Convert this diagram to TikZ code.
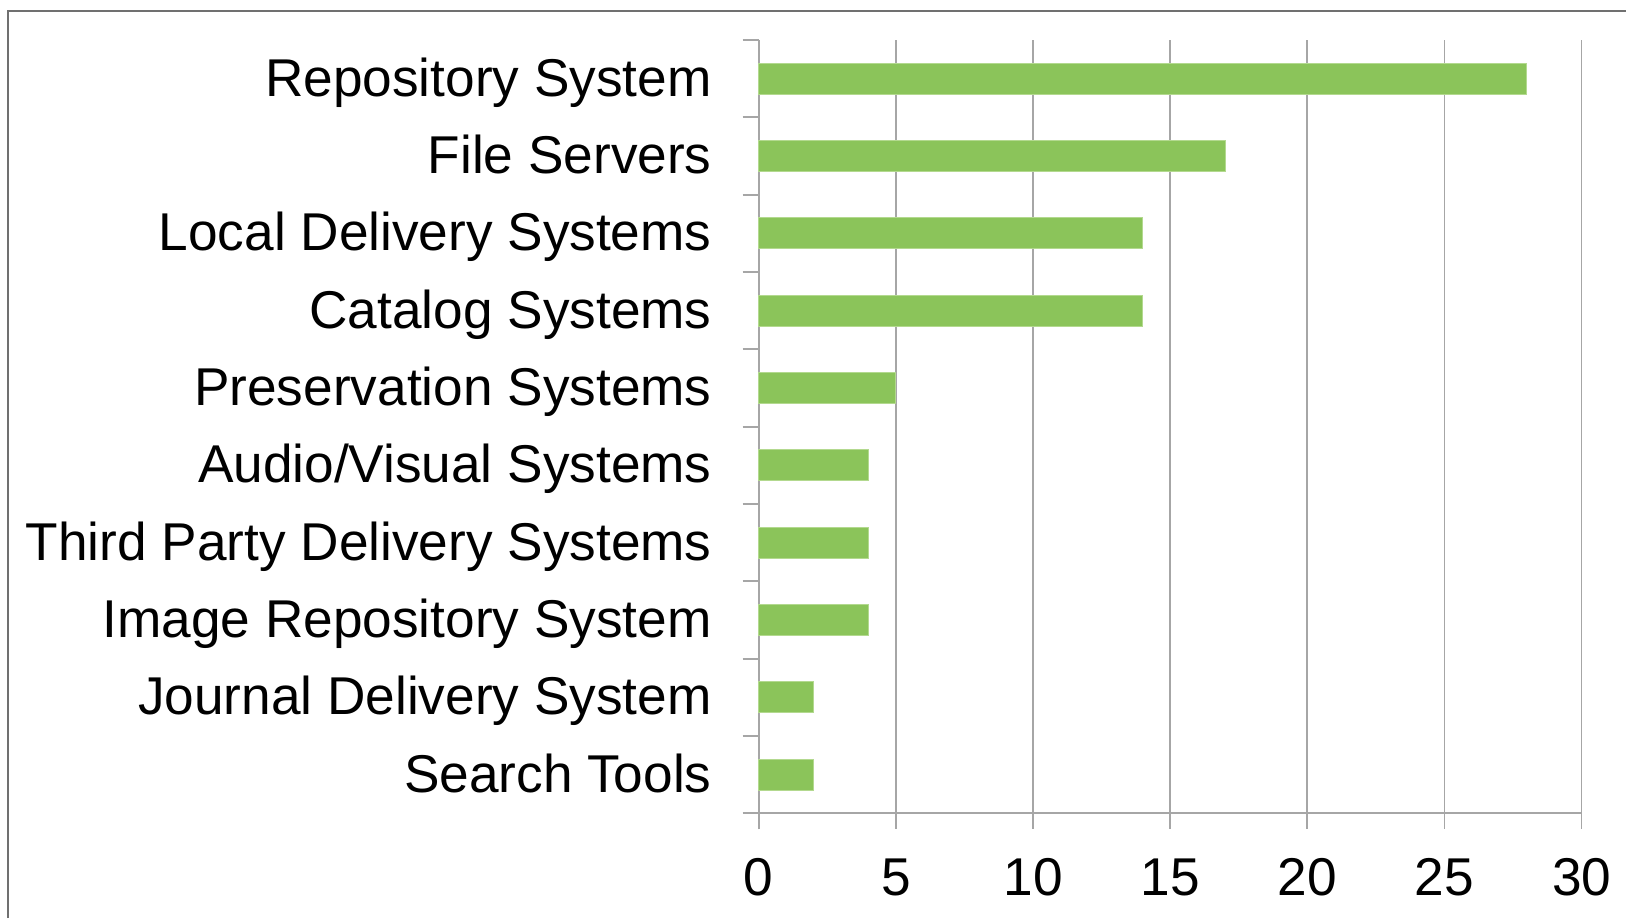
\documentclass[tikz,border=0pt]{standalone}
\usepackage{fontspec}
\setmainfont{Liberation Sans}
\definecolor{framegray}{HTML}{707070}
\definecolor{gridgray}{HTML}{A6A6A6}
\definecolor{barfill}{HTML}{8BC45A}
\definecolor{baredge}{HTML}{B3D98F}
\tikzset{
  frameline/.style={draw=framegray, line width=1.25pt},
  gridline/.style={draw=gridgray, line width=0.85pt},
  barbox/.style={fill=barfill, draw=baredge, line width=0.4pt},
  catlabel/.style={anchor=base east, inner sep=0pt, font=\fontsize{26.6pt}{30pt}\selectfont},
  ticklabel/.style={anchor=base, inner sep=0pt, font=\fontsize{26.6pt}{30pt}\selectfont},
}
\begin{document}
\begin{tikzpicture}[x=0.5pt, y=-0.5pt]
  \useasboundingbox (0,0) rectangle (1626,918);
  % plot geometry (pixel units)
  \def\xo{758.7}   % value 0
  \def\ux{27.43}   % pixels per unit
  \def\yt{40}      % top of plot area
  \def\yb{813.3}   % value axis
  \def\band{77.33} % category band height
  % outer frame (only top and left edges fall inside the picture)
  \draw[frameline] (8,918) -- (8,11) -- (1626,11);
  % vertical gridlines and value ticks
  \foreach \k in {1,...,6}{
    \draw[gridline] ({\xo+\k*5*\ux},\yt) -- ({\xo+\k*5*\ux},{\yb+16});
  }
  \draw[gridline] (\xo,{\yb+16}) -- (\xo,\yt);
  \draw[gridline] ({\xo-16},\yb) -- ({\xo+30*\ux},\yb);
  % category ticks
  \foreach \i in {0,...,9}{
    \draw[gridline] ({\xo-16},{\yt+\i*\band}) -- (\xo,{\yt+\i*\band});
  }
  % value tick labels
  \foreach \k in {0,...,6}{
    \pgfmathtruncatemacro{\v}{5*\k}
    \node[ticklabel] (tick\k) at ({\xo+\k*5*\ux},895) {\v};
  }
  % bars and category labels
  \foreach \i/\val/\name in {
      0/28/{Repository System},
      1/17/{File Servers},
      2/14/{Local Delivery Systems},
      3/14/{Catalog Systems},
      4/5/{Preservation Systems},
      5/4/{Audio/Visual Systems},
      6/4/{Third Party Delivery Systems},
      7/4/{Image Repository System},
      8/2/{Journal Delivery System},
      9/2/{Search Tools}}{
    \pgfmathsetmacro{\yc}{\yt+(\i+0.5)*\band}
    \draw[barbox] (\xo,{\yc-15.5}) rectangle ({\xo+\val*\ux},{\yc+15.5});
    \node[catlabel] (cat\i) at (712,{\yc+17.5}) {\name};
  }
\end{tikzpicture}
\end{document}
